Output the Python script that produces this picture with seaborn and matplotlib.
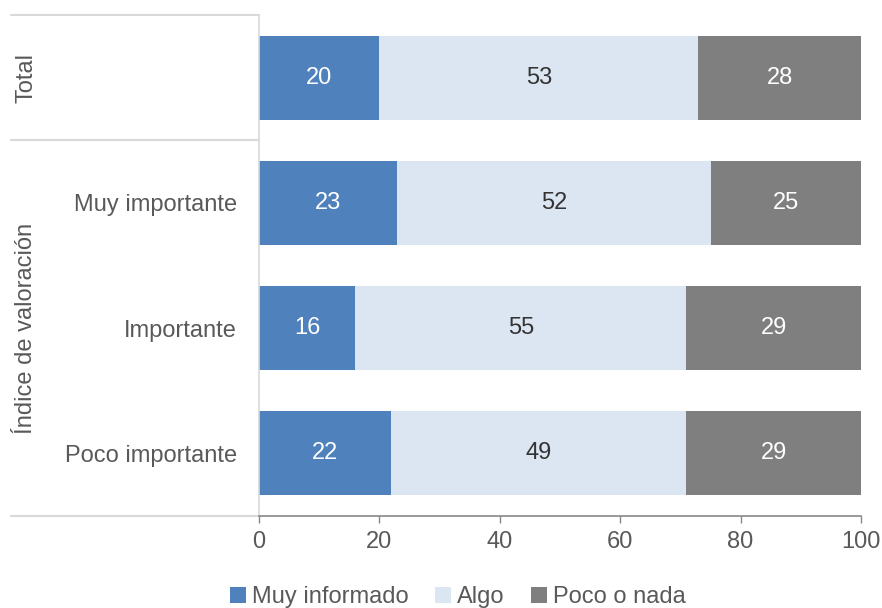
import matplotlib
matplotlib.use("Agg")
import matplotlib.pyplot as plt
from matplotlib.lines import Line2D
from matplotlib.patches import Patch
import numpy as np
import pandas as pd
import seaborn as sns

# Survey results (%)
categories = ["Total", "Muy importante", "Importante", "Poco importante"]
series_names = ["Muy informado", "Algo", "Poco o nada"]
muy_informado = [20, 23, 16, 22]
algo = [53, 52, 55, 49]
poco_o_nada = [28, 25, 29, 29]
x_ticks = [0, 20, 40, 60, 80, 100]
group_labels = ["Total", "Índice de valoración"]

colors = ["#4F81BD", "#DCE6F2", "#7F7F7F"]
text_colors = ["white", "#333333", "white"]
label_color = "#595959"

sns.set_theme(style="white")
plt.rcParams["font.family"] = ["Liberation Sans", "DejaVu Sans"]
FS = 17

values = np.array([muy_informado, algo, poco_o_nada], dtype=float)
cum = values.cumsum(axis=0)
left = np.vstack([np.zeros(len(categories)), cum[:-1]])

fig = plt.figure(figsize=(8.82, 6.08), dpi=100)
ax = fig.add_axes([0.2937, 0.1513, 0.6825, 0.824])

# Stacked bars: draw cumulative totals from the outermost segment inward
for i in reversed(range(len(series_names))):
    df = pd.DataFrame({"cat": categories, "val": cum[i]})
    sns.barplot(data=df, x="val", y="cat", order=categories, orient="h",
                color=colors[i], width=0.67, saturation=1, ax=ax,
                edgecolor="none", linewidth=0)

# Segment value labels
for i in range(len(series_names)):
    for j in range(len(categories)):
        right = min(cum[i, j], 100)
        cx = (left[i, j] + right) / 2
        ax.text(cx, j, f"{values[i, j]:.0f}", ha="center", va="center",
                fontsize=FS, color=text_colors[i])

ax.set_xlim(0, 100)
ax.set_ylim(len(categories) - 0.5, -0.5)
ax.set_xticks(x_ticks)
ax.set_xticklabels([str(t) for t in x_ticks])
# The overall row is labelled by its rotated group label only
ax.set_yticks(range(len(categories)))
ax.set_yticklabels([""] + categories[1:])
ax.set_xlabel("")
ax.set_ylabel("")
ax.tick_params(axis="x", labelsize=FS, colors=label_color, length=5,
               width=1, direction="out", pad=6, bottom=True, color="#868686")
ax.tick_params(axis="y", labelsize=FS, colors=label_color, length=0, pad=16)

for s in ["top", "right"]:
    ax.spines[s].set_visible(False)
ax.spines["left"].set_color("#D9D9D9")
ax.spines["left"].set_linewidth(1.2)
ax.spines["bottom"].set_color("#868686")
ax.spines["bottom"].set_linewidth(1.2)

# Group separator lines in the label area
x0 = -0.412
for yf in [1.0, 0.7505, 0.0]:
    ax.add_line(Line2D([x0, 0], [yf, yf], transform=ax.transAxes,
                       color="#D9D9D9", lw=1.5, clip_on=False))

# Rotated group labels
ax.text(-0.387, (1.0 + 0.7505) / 2, group_labels[0], transform=ax.transAxes,
        rotation=90, ha="center", va="center", fontsize=FS, color=label_color)
ax.text(-0.387, 0.7505 / 2, group_labels[1], transform=ax.transAxes,
        rotation=90, ha="center", va="center", fontsize=FS, color=label_color)

handles = [Patch(facecolor=c, edgecolor="none") for c in colors]
fig.legend(handles, series_names, loc="center", bbox_to_anchor=(0.519, 0.018),
           ncol=3, frameon=False, fontsize=FS, handlelength=0.7,
           handleheight=0.7, handletextpad=0.25, columnspacing=1.1,
           labelcolor=label_color)

fig.savefig("out.png", dpi=100)
